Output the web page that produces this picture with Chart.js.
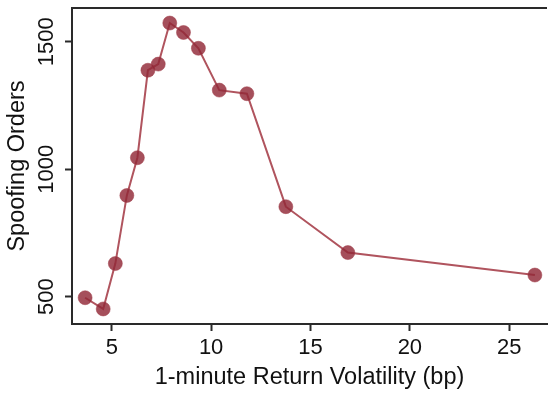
<!DOCTYPE html>
<html>
<head>
<meta charset="utf-8">
<script src="https://cdn.jsdelivr.net/npm/chart.js@4"></script>
<style>
  body { margin: 0; background: #fff; }
  #chart { display: block; }
</style>
</head>
<body>
<canvas id="chart" width="555" height="396"></canvas>
<script>
// values
var volatility = [3.66, 4.57, 5.18, 5.76, 6.29, 6.82, 7.34, 7.92, 8.61, 9.36, 10.41, 11.80, 13.76, 16.88, 26.29];
var spoofing = [496, 452, 630, 897, 1045, 1388, 1412, 1573, 1536, 1474, 1310, 1296, 853, 673, 585];
var xTicks = [5, 10, 15, 20, 25];
var yTicks = [500, 1000, 1500];

var axisColor = '#2a2a2a';
var fontFamily = '"Liberation Sans", Arial, Helvetica, sans-serif';

var points = [];
for (var i = 0; i < volatility.length; i++) {
    points.push({ x: volatility[i], y: spoofing[i] });
}

// stata style box: draw the top edge of the plot region
var topBorder = {
    id: 'topBorder',
    afterDraw: function (chart) {
        var a = chart.chartArea;
        var ctx = chart.ctx;
        ctx.save();
        ctx.strokeStyle = axisColor;
        ctx.lineWidth = 2;
        ctx.beginPath();
        ctx.moveTo(a.left, a.top);
        ctx.lineTo(a.right, a.top);
        ctx.stroke();
        ctx.restore();
    }
};

function setTicks(list) {
    return function (scale) {
        scale.ticks = list.map(function (v) { return { value: v }; });
    };
}

function plainLabel(v) {
    return String(v);
}

new Chart(document.getElementById('chart'), {
    type: 'scatter',
    data: {
        datasets: [{
            data: points,
            showLine: true,
            borderColor: 'rgb(176, 84, 94)',
            borderWidth: 2,
            pointRadius: 7,
            pointBackgroundColor: 'rgba(145, 40, 55, 0.82)',
            pointBorderColor: 'rgba(160, 60, 72, 0.5)',
            pointBorderWidth: 1
        }]
    },
    options: {
        responsive: false,
        animation: false,
        layout: { padding: { top: 7, left: 0, right: 0, bottom: 0 } },
        plugins: {
            legend: { display: false },
            tooltip: { enabled: false }
        },
        scales: {
            x: {
                type: 'linear',
                min: 3,
                max: 26.9,
                afterBuildTicks: setTicks(xTicks),
                afterFit: function (scale) {
                    scale.height = 72;
                    scale.paddingLeft = 0;
                    scale.paddingRight = 0;
                },
                grid: { drawOnChartArea: false, drawTicks: true, tickLength: 7, tickColor: axisColor, tickWidth: 2 },
                border: { display: true, color: axisColor, width: 2 },
                ticks: { color: '#111', padding: 4, callback: plainLabel, font: { family: fontFamily, size: 22 } },
                title: {
                    display: true,
                    text: '1-minute Return Volatility (bp)',
                    color: '#111',
                    padding: { top: 0, bottom: 4 },
                    font: { family: fontFamily, size: 23.5 }
                }
            },
            y: {
                type: 'linear',
                min: 393,
                max: 1632,
                afterBuildTicks: setTicks(yTicks),
                afterFit: function (scale) {
                    scale.width = 72;
                    scale.paddingTop = 0;
                    scale.paddingBottom = 0;
                },
                grid: { drawOnChartArea: false, drawTicks: true, tickLength: 7, tickColor: axisColor, tickWidth: 2 },
                border: { display: true, color: axisColor, width: 2 },
                ticks: {
                    color: '#111',
                    padding: -6,
                    minRotation: 90,
                    maxRotation: 90,
                    crossAlign: 'center',
                    callback: plainLabel,
                    font: { family: fontFamily, size: 22 }
                },
                title: {
                    display: true,
                    text: 'Spoofing Orders',
                    color: '#111',
                    padding: { top: 3, bottom: 0 },
                    font: { family: fontFamily, size: 23.5 }
                }
            }
        }
    },
    plugins: [topBorder]
});
</script>
</body>
</html>
